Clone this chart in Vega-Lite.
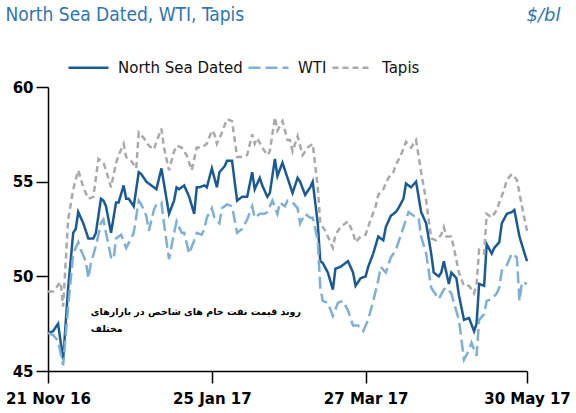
{
  "$schema": "https://vega.github.io/schema/vega-lite/v6.json",
  "description": "North Sea Dated, WTI and Tapis crude prices",
  "width": 479,
  "height": 284,
  "autosize": "none",
  "padding": {"left": 48, "top": 87, "right": 49, "bottom": 42},
  "title": {
    "text": "North Sea Dated, WTI, Tapis",
    "anchor": "start",
    "frame": "bounds",
    "font": "DejaVu Sans Condensed, DejaVu Sans",
    "fontSize": 19,
    "fontWeight": "normal",
    "color": "#2f74b0",
    "offset": 0,
    "dy": 19
  },
  "data": {
    "values": [
      {"date": "2016-11-21", "series": "North Sea Dated", "price": 47.0},
      {"date": "2016-11-23", "series": "North Sea Dated", "price": 47.1},
      {"date": "2016-11-25", "series": "North Sea Dated", "price": 47.5},
      {"date": "2016-11-27", "series": "North Sea Dated", "price": 45.6},
      {"date": "2016-11-29", "series": "North Sea Dated", "price": 49.4},
      {"date": "2016-12-01", "series": "North Sea Dated", "price": 52.3},
      {"date": "2016-12-02", "series": "North Sea Dated", "price": 52.5},
      {"date": "2016-12-03", "series": "North Sea Dated", "price": 53.4},
      {"date": "2016-12-05", "series": "North Sea Dated", "price": 52.8},
      {"date": "2016-12-07", "series": "North Sea Dated", "price": 52.0},
      {"date": "2016-12-09", "series": "North Sea Dated", "price": 52.0},
      {"date": "2016-12-10", "series": "North Sea Dated", "price": 52.3},
      {"date": "2016-12-12", "series": "North Sea Dated", "price": 54.1},
      {"date": "2016-12-13", "series": "North Sea Dated", "price": 54.0},
      {"date": "2016-12-14", "series": "North Sea Dated", "price": 53.7},
      {"date": "2016-12-16", "series": "North Sea Dated", "price": 52.3},
      {"date": "2016-12-18", "series": "North Sea Dated", "price": 53.9},
      {"date": "2016-12-19", "series": "North Sea Dated", "price": 53.9},
      {"date": "2016-12-21", "series": "North Sea Dated", "price": 54.8},
      {"date": "2016-12-22", "series": "North Sea Dated", "price": 54.1},
      {"date": "2016-12-23", "series": "North Sea Dated", "price": 54.1},
      {"date": "2016-12-25", "series": "North Sea Dated", "price": 53.7},
      {"date": "2016-12-27", "series": "North Sea Dated", "price": 55.5},
      {"date": "2016-12-28", "series": "North Sea Dated", "price": 55.4},
      {"date": "2016-12-30", "series": "North Sea Dated", "price": 55.0},
      {"date": "2017-01-02", "series": "North Sea Dated", "price": 54.7},
      {"date": "2017-01-03", "series": "North Sea Dated", "price": 54.6},
      {"date": "2017-01-05", "series": "North Sea Dated", "price": 55.7},
      {"date": "2017-01-08", "series": "North Sea Dated", "price": 53.3},
      {"date": "2017-01-10", "series": "North Sea Dated", "price": 54.0},
      {"date": "2017-01-11", "series": "North Sea Dated", "price": 54.7},
      {"date": "2017-01-12", "series": "North Sea Dated", "price": 54.6},
      {"date": "2017-01-14", "series": "North Sea Dated", "price": 54.8},
      {"date": "2017-01-16", "series": "North Sea Dated", "price": 54.2},
      {"date": "2017-01-18", "series": "North Sea Dated", "price": 53.3},
      {"date": "2017-01-19", "series": "North Sea Dated", "price": 54.7},
      {"date": "2017-01-20", "series": "North Sea Dated", "price": 54.7},
      {"date": "2017-01-22", "series": "North Sea Dated", "price": 54.8},
      {"date": "2017-01-23", "series": "North Sea Dated", "price": 54.7},
      {"date": "2017-01-25", "series": "North Sea Dated", "price": 55.7},
      {"date": "2017-01-27", "series": "North Sea Dated", "price": 54.7},
      {"date": "2017-01-28", "series": "North Sea Dated", "price": 55.5},
      {"date": "2017-01-30", "series": "North Sea Dated", "price": 55.8},
      {"date": "2017-01-31", "series": "North Sea Dated", "price": 56.1},
      {"date": "2017-02-02", "series": "North Sea Dated", "price": 56.1},
      {"date": "2017-02-04", "series": "North Sea Dated", "price": 54.0},
      {"date": "2017-02-06", "series": "North Sea Dated", "price": 54.2},
      {"date": "2017-02-08", "series": "North Sea Dated", "price": 54.2},
      {"date": "2017-02-10", "series": "North Sea Dated", "price": 55.5},
      {"date": "2017-02-11", "series": "North Sea Dated", "price": 54.6},
      {"date": "2017-02-13", "series": "North Sea Dated", "price": 55.2},
      {"date": "2017-02-14", "series": "North Sea Dated", "price": 54.8},
      {"date": "2017-02-16", "series": "North Sea Dated", "price": 54.2},
      {"date": "2017-02-17", "series": "North Sea Dated", "price": 54.4},
      {"date": "2017-02-19", "series": "North Sea Dated", "price": 56.2},
      {"date": "2017-02-20", "series": "North Sea Dated", "price": 55.3},
      {"date": "2017-02-22", "series": "North Sea Dated", "price": 56.0},
      {"date": "2017-02-24", "series": "North Sea Dated", "price": 55.2},
      {"date": "2017-02-26", "series": "North Sea Dated", "price": 54.4},
      {"date": "2017-02-28", "series": "North Sea Dated", "price": 55.2},
      {"date": "2017-03-01", "series": "North Sea Dated", "price": 55.0},
      {"date": "2017-03-03", "series": "North Sea Dated", "price": 54.3},
      {"date": "2017-03-05", "series": "North Sea Dated", "price": 54.7},
      {"date": "2017-03-06", "series": "North Sea Dated", "price": 55.0},
      {"date": "2017-03-08", "series": "North Sea Dated", "price": 52.8},
      {"date": "2017-03-09", "series": "North Sea Dated", "price": 50.8},
      {"date": "2017-03-10", "series": "North Sea Dated", "price": 50.7},
      {"date": "2017-03-12", "series": "North Sea Dated", "price": 50.2},
      {"date": "2017-03-14", "series": "North Sea Dated", "price": 49.3},
      {"date": "2017-03-15", "series": "North Sea Dated", "price": 50.4},
      {"date": "2017-03-17", "series": "North Sea Dated", "price": 50.5},
      {"date": "2017-03-20", "series": "North Sea Dated", "price": 50.8},
      {"date": "2017-03-22", "series": "North Sea Dated", "price": 50.2},
      {"date": "2017-03-23", "series": "North Sea Dated", "price": 49.5},
      {"date": "2017-03-25", "series": "North Sea Dated", "price": 49.9},
      {"date": "2017-03-27", "series": "North Sea Dated", "price": 50.0},
      {"date": "2017-03-28", "series": "North Sea Dated", "price": 50.5},
      {"date": "2017-03-30", "series": "North Sea Dated", "price": 51.2},
      {"date": "2017-04-01", "series": "North Sea Dated", "price": 52.1},
      {"date": "2017-04-03", "series": "North Sea Dated", "price": 51.9},
      {"date": "2017-04-04", "series": "North Sea Dated", "price": 52.6},
      {"date": "2017-04-06", "series": "North Sea Dated", "price": 53.2},
      {"date": "2017-04-08", "series": "North Sea Dated", "price": 53.4},
      {"date": "2017-04-09", "series": "North Sea Dated", "price": 53.6},
      {"date": "2017-04-11", "series": "North Sea Dated", "price": 54.1},
      {"date": "2017-04-12", "series": "North Sea Dated", "price": 54.9},
      {"date": "2017-04-14", "series": "North Sea Dated", "price": 54.7},
      {"date": "2017-04-16", "series": "North Sea Dated", "price": 55.0},
      {"date": "2017-04-18", "series": "North Sea Dated", "price": 53.4},
      {"date": "2017-04-20", "series": "North Sea Dated", "price": 52.8},
      {"date": "2017-04-22", "series": "North Sea Dated", "price": 51.2},
      {"date": "2017-04-23", "series": "North Sea Dated", "price": 50.2},
      {"date": "2017-04-25", "series": "North Sea Dated", "price": 50.0},
      {"date": "2017-04-26", "series": "North Sea Dated", "price": 50.2},
      {"date": "2017-04-27", "series": "North Sea Dated", "price": 50.8},
      {"date": "2017-04-29", "series": "North Sea Dated", "price": 49.6},
      {"date": "2017-04-30", "series": "North Sea Dated", "price": 50.2},
      {"date": "2017-05-02", "series": "North Sea Dated", "price": 49.9},
      {"date": "2017-05-03", "series": "North Sea Dated", "price": 49.0},
      {"date": "2017-05-05", "series": "North Sea Dated", "price": 47.7},
      {"date": "2017-05-07", "series": "North Sea Dated", "price": 47.8},
      {"date": "2017-05-09", "series": "North Sea Dated", "price": 47.1},
      {"date": "2017-05-10", "series": "North Sea Dated", "price": 47.5},
      {"date": "2017-05-11", "series": "North Sea Dated", "price": 49.6},
      {"date": "2017-05-13", "series": "North Sea Dated", "price": 49.5},
      {"date": "2017-05-14", "series": "North Sea Dated", "price": 51.7},
      {"date": "2017-05-16", "series": "North Sea Dated", "price": 51.2},
      {"date": "2017-05-17", "series": "North Sea Dated", "price": 51.5},
      {"date": "2017-05-19", "series": "North Sea Dated", "price": 51.8},
      {"date": "2017-05-20", "series": "North Sea Dated", "price": 52.8},
      {"date": "2017-05-22", "series": "North Sea Dated", "price": 53.3},
      {"date": "2017-05-24", "series": "North Sea Dated", "price": 53.4},
      {"date": "2017-05-25", "series": "North Sea Dated", "price": 53.5},
      {"date": "2017-05-27", "series": "North Sea Dated", "price": 52.1},
      {"date": "2017-05-30", "series": "North Sea Dated", "price": 50.8},

      {"date": "2016-11-21", "series": "WTI", "price": 47.0},
      {"date": "2016-11-23", "series": "WTI", "price": 46.9},
      {"date": "2016-11-25", "series": "WTI", "price": 46.6},
      {"date": "2016-11-27", "series": "WTI", "price": 45.3},
      {"date": "2016-11-29", "series": "WTI", "price": 48.4},
      {"date": "2016-12-01", "series": "WTI", "price": 51.2},
      {"date": "2016-12-03", "series": "WTI", "price": 51.8},
      {"date": "2016-12-04", "series": "WTI", "price": 51.4},
      {"date": "2016-12-06", "series": "WTI", "price": 50.8},
      {"date": "2016-12-07", "series": "WTI", "price": 49.9},
      {"date": "2016-12-08", "series": "WTI", "price": 50.7},
      {"date": "2016-12-10", "series": "WTI", "price": 51.6},
      {"date": "2016-12-12", "series": "WTI", "price": 52.8},
      {"date": "2016-12-13", "series": "WTI", "price": 53.0},
      {"date": "2016-12-14", "series": "WTI", "price": 52.3},
      {"date": "2016-12-16", "series": "WTI", "price": 51.0},
      {"date": "2016-12-17", "series": "WTI", "price": 50.9},
      {"date": "2016-12-18", "series": "WTI", "price": 52.0},
      {"date": "2016-12-20", "series": "WTI", "price": 52.2},
      {"date": "2016-12-22", "series": "WTI", "price": 51.5},
      {"date": "2016-12-24", "series": "WTI", "price": 52.0},
      {"date": "2016-12-25", "series": "WTI", "price": 52.3},
      {"date": "2016-12-27", "series": "WTI", "price": 54.0},
      {"date": "2016-12-28", "series": "WTI", "price": 53.8},
      {"date": "2016-12-30", "series": "WTI", "price": 53.2},
      {"date": "2016-12-31", "series": "WTI", "price": 52.4},
      {"date": "2017-01-02", "series": "WTI", "price": 53.5},
      {"date": "2017-01-03", "series": "WTI", "price": 53.8},
      {"date": "2017-01-05", "series": "WTI", "price": 53.9},
      {"date": "2017-01-06", "series": "WTI", "price": 52.8},
      {"date": "2017-01-08", "series": "WTI", "price": 50.9},
      {"date": "2017-01-10", "series": "WTI", "price": 52.3},
      {"date": "2017-01-11", "series": "WTI", "price": 52.9},
      {"date": "2017-01-13", "series": "WTI", "price": 52.3},
      {"date": "2017-01-14", "series": "WTI", "price": 52.3},
      {"date": "2017-01-16", "series": "WTI", "price": 51.2},
      {"date": "2017-01-18", "series": "WTI", "price": 51.9},
      {"date": "2017-01-19", "series": "WTI", "price": 52.3},
      {"date": "2017-01-21", "series": "WTI", "price": 52.2},
      {"date": "2017-01-22", "series": "WTI", "price": 52.5},
      {"date": "2017-01-23", "series": "WTI", "price": 53.1},
      {"date": "2017-01-25", "series": "WTI", "price": 53.6},
      {"date": "2017-01-26", "series": "WTI", "price": 53.1},
      {"date": "2017-01-28", "series": "WTI", "price": 52.8},
      {"date": "2017-01-29", "series": "WTI", "price": 53.6},
      {"date": "2017-01-31", "series": "WTI", "price": 53.8},
      {"date": "2017-02-02", "series": "WTI", "price": 53.7},
      {"date": "2017-02-04", "series": "WTI", "price": 52.3},
      {"date": "2017-02-06", "series": "WTI", "price": 52.5},
      {"date": "2017-02-08", "series": "WTI", "price": 53.0},
      {"date": "2017-02-10", "series": "WTI", "price": 53.7},
      {"date": "2017-02-11", "series": "WTI", "price": 53.1},
      {"date": "2017-02-13", "series": "WTI", "price": 53.3},
      {"date": "2017-02-15", "series": "WTI", "price": 53.3},
      {"date": "2017-02-16", "series": "WTI", "price": 53.4},
      {"date": "2017-02-18", "series": "WTI", "price": 54.0},
      {"date": "2017-02-20", "series": "WTI", "price": 53.3},
      {"date": "2017-02-21", "series": "WTI", "price": 53.9},
      {"date": "2017-02-23", "series": "WTI", "price": 53.7},
      {"date": "2017-02-24", "series": "WTI", "price": 54.0},
      {"date": "2017-02-26", "series": "WTI", "price": 53.9},
      {"date": "2017-02-28", "series": "WTI", "price": 53.6},
      {"date": "2017-03-01", "series": "WTI", "price": 52.8},
      {"date": "2017-03-03", "series": "WTI", "price": 53.3},
      {"date": "2017-03-05", "series": "WTI", "price": 53.1},
      {"date": "2017-03-06", "series": "WTI", "price": 53.1},
      {"date": "2017-03-08", "series": "WTI", "price": 51.9},
      {"date": "2017-03-09", "series": "WTI", "price": 49.4},
      {"date": "2017-03-10", "series": "WTI", "price": 48.7},
      {"date": "2017-03-12", "series": "WTI", "price": 48.6},
      {"date": "2017-03-14", "series": "WTI", "price": 47.9},
      {"date": "2017-03-16", "series": "WTI", "price": 48.6},
      {"date": "2017-03-18", "series": "WTI", "price": 48.7},
      {"date": "2017-03-20", "series": "WTI", "price": 48.2},
      {"date": "2017-03-22", "series": "WTI", "price": 47.4},
      {"date": "2017-03-24", "series": "WTI", "price": 47.4},
      {"date": "2017-03-26", "series": "WTI", "price": 47.1},
      {"date": "2017-03-28", "series": "WTI", "price": 47.7},
      {"date": "2017-03-30", "series": "WTI", "price": 48.7},
      {"date": "2017-04-01", "series": "WTI", "price": 49.8},
      {"date": "2017-04-02", "series": "WTI", "price": 50.5},
      {"date": "2017-04-04", "series": "WTI", "price": 50.2},
      {"date": "2017-04-06", "series": "WTI", "price": 51.0},
      {"date": "2017-04-08", "series": "WTI", "price": 51.4},
      {"date": "2017-04-09", "series": "WTI", "price": 51.8},
      {"date": "2017-04-11", "series": "WTI", "price": 52.6},
      {"date": "2017-04-13", "series": "WTI", "price": 53.4},
      {"date": "2017-04-15", "series": "WTI", "price": 53.2},
      {"date": "2017-04-17", "series": "WTI", "price": 53.1},
      {"date": "2017-04-18", "series": "WTI", "price": 52.1},
      {"date": "2017-04-20", "series": "WTI", "price": 51.2},
      {"date": "2017-04-22", "series": "WTI", "price": 49.4},
      {"date": "2017-04-24", "series": "WTI", "price": 49.0},
      {"date": "2017-04-25", "series": "WTI", "price": 48.8},
      {"date": "2017-04-27", "series": "WTI", "price": 49.3},
      {"date": "2017-04-28", "series": "WTI", "price": 49.4},
      {"date": "2017-04-30", "series": "WTI", "price": 49.1},
      {"date": "2017-05-01", "series": "WTI", "price": 48.6},
      {"date": "2017-05-03", "series": "WTI", "price": 47.7},
      {"date": "2017-05-05", "series": "WTI", "price": 45.6},
      {"date": "2017-05-07", "series": "WTI", "price": 46.1},
      {"date": "2017-05-08", "series": "WTI", "price": 46.5},
      {"date": "2017-05-10", "series": "WTI", "price": 45.8},
      {"date": "2017-05-11", "series": "WTI", "price": 47.7},
      {"date": "2017-05-13", "series": "WTI", "price": 48.0},
      {"date": "2017-05-14", "series": "WTI", "price": 48.7},
      {"date": "2017-05-16", "series": "WTI", "price": 48.8},
      {"date": "2017-05-18", "series": "WTI", "price": 49.1},
      {"date": "2017-05-19", "series": "WTI", "price": 49.4},
      {"date": "2017-05-20", "series": "WTI", "price": 50.3},
      {"date": "2017-05-22", "series": "WTI", "price": 50.6},
      {"date": "2017-05-24", "series": "WTI", "price": 51.2},
      {"date": "2017-05-26", "series": "WTI", "price": 51.0},
      {"date": "2017-05-27", "series": "WTI", "price": 48.7},
      {"date": "2017-05-28", "series": "WTI", "price": 49.7},
      {"date": "2017-05-30", "series": "WTI", "price": 49.6},

      {"date": "2016-11-21", "series": "Tapis", "price": 49.2},
      {"date": "2016-11-23", "series": "Tapis", "price": 49.2},
      {"date": "2016-11-26", "series": "Tapis", "price": 49.7},
      {"date": "2016-11-27", "series": "Tapis", "price": 48.4},
      {"date": "2016-11-29", "series": "Tapis", "price": 53.0},
      {"date": "2016-12-01", "series": "Tapis", "price": 54.6},
      {"date": "2016-12-02", "series": "Tapis", "price": 55.1},
      {"date": "2016-12-03", "series": "Tapis", "price": 55.6},
      {"date": "2016-12-05", "series": "Tapis", "price": 54.7},
      {"date": "2016-12-07", "series": "Tapis", "price": 54.1},
      {"date": "2016-12-09", "series": "Tapis", "price": 54.2},
      {"date": "2016-12-11", "series": "Tapis", "price": 56.2},
      {"date": "2016-12-13", "series": "Tapis", "price": 56.0},
      {"date": "2016-12-14", "series": "Tapis", "price": 55.6},
      {"date": "2016-12-16", "series": "Tapis", "price": 54.7},
      {"date": "2016-12-18", "series": "Tapis", "price": 56.0},
      {"date": "2016-12-19", "series": "Tapis", "price": 56.4},
      {"date": "2016-12-21", "series": "Tapis", "price": 57.0},
      {"date": "2016-12-22", "series": "Tapis", "price": 56.3},
      {"date": "2016-12-24", "series": "Tapis", "price": 56.1},
      {"date": "2016-12-26", "series": "Tapis", "price": 55.7},
      {"date": "2016-12-27", "series": "Tapis", "price": 57.6},
      {"date": "2016-12-29", "series": "Tapis", "price": 57.3},
      {"date": "2016-12-31", "series": "Tapis", "price": 56.9},
      {"date": "2017-01-02", "series": "Tapis", "price": 56.7},
      {"date": "2017-01-03", "series": "Tapis", "price": 57.1},
      {"date": "2017-01-05", "series": "Tapis", "price": 57.8},
      {"date": "2017-01-06", "series": "Tapis", "price": 56.8},
      {"date": "2017-01-08", "series": "Tapis", "price": 55.6},
      {"date": "2017-01-10", "series": "Tapis", "price": 56.6},
      {"date": "2017-01-11", "series": "Tapis", "price": 56.9},
      {"date": "2017-01-13", "series": "Tapis", "price": 56.8},
      {"date": "2017-01-15", "series": "Tapis", "price": 56.4},
      {"date": "2017-01-17", "series": "Tapis", "price": 55.6},
      {"date": "2017-01-19", "series": "Tapis", "price": 56.8},
      {"date": "2017-01-21", "series": "Tapis", "price": 56.8},
      {"date": "2017-01-23", "series": "Tapis", "price": 57.0},
      {"date": "2017-01-25", "series": "Tapis", "price": 57.7},
      {"date": "2017-01-26", "series": "Tapis", "price": 57.5},
      {"date": "2017-01-27", "series": "Tapis", "price": 57.0},
      {"date": "2017-01-29", "series": "Tapis", "price": 57.6},
      {"date": "2017-01-31", "series": "Tapis", "price": 58.3},
      {"date": "2017-02-02", "series": "Tapis", "price": 58.2},
      {"date": "2017-02-04", "series": "Tapis", "price": 56.3},
      {"date": "2017-02-06", "series": "Tapis", "price": 56.3},
      {"date": "2017-02-08", "series": "Tapis", "price": 56.4},
      {"date": "2017-02-10", "series": "Tapis", "price": 57.5},
      {"date": "2017-02-11", "series": "Tapis", "price": 57.0},
      {"date": "2017-02-12", "series": "Tapis", "price": 57.3},
      {"date": "2017-02-14", "series": "Tapis", "price": 56.8},
      {"date": "2017-02-16", "series": "Tapis", "price": 56.4},
      {"date": "2017-02-17", "series": "Tapis", "price": 56.6},
      {"date": "2017-02-19", "series": "Tapis", "price": 58.4},
      {"date": "2017-02-20", "series": "Tapis", "price": 57.7},
      {"date": "2017-02-22", "series": "Tapis", "price": 58.2},
      {"date": "2017-02-24", "series": "Tapis", "price": 57.2},
      {"date": "2017-02-25", "series": "Tapis", "price": 57.2},
      {"date": "2017-02-26", "series": "Tapis", "price": 56.6},
      {"date": "2017-02-28", "series": "Tapis", "price": 57.4},
      {"date": "2017-03-02", "series": "Tapis", "price": 56.4},
      {"date": "2017-03-04", "series": "Tapis", "price": 56.8},
      {"date": "2017-03-06", "series": "Tapis", "price": 57.0},
      {"date": "2017-03-08", "series": "Tapis", "price": 54.7},
      {"date": "2017-03-09", "series": "Tapis", "price": 52.8},
      {"date": "2017-03-11", "series": "Tapis", "price": 52.4},
      {"date": "2017-03-12", "series": "Tapis", "price": 52.1},
      {"date": "2017-03-14", "series": "Tapis", "price": 51.5},
      {"date": "2017-03-15", "series": "Tapis", "price": 52.2},
      {"date": "2017-03-17", "series": "Tapis", "price": 52.6},
      {"date": "2017-03-19", "series": "Tapis", "price": 52.8},
      {"date": "2017-03-20", "series": "Tapis", "price": 52.9},
      {"date": "2017-03-22", "series": "Tapis", "price": 52.3},
      {"date": "2017-03-23", "series": "Tapis", "price": 51.8},
      {"date": "2017-03-25", "series": "Tapis", "price": 52.1},
      {"date": "2017-03-27", "series": "Tapis", "price": 52.2},
      {"date": "2017-03-29", "series": "Tapis", "price": 53.0},
      {"date": "2017-03-31", "series": "Tapis", "price": 53.7},
      {"date": "2017-04-01", "series": "Tapis", "price": 54.3},
      {"date": "2017-04-03", "series": "Tapis", "price": 54.6},
      {"date": "2017-04-05", "series": "Tapis", "price": 55.2},
      {"date": "2017-04-07", "series": "Tapis", "price": 55.5},
      {"date": "2017-04-08", "series": "Tapis", "price": 55.9},
      {"date": "2017-04-10", "series": "Tapis", "price": 56.4},
      {"date": "2017-04-12", "series": "Tapis", "price": 57.1},
      {"date": "2017-04-14", "series": "Tapis", "price": 56.8},
      {"date": "2017-04-16", "series": "Tapis", "price": 57.2},
      {"date": "2017-04-18", "series": "Tapis", "price": 55.5},
      {"date": "2017-04-20", "series": "Tapis", "price": 54.0},
      {"date": "2017-04-22", "series": "Tapis", "price": 52.0},
      {"date": "2017-04-24", "series": "Tapis", "price": 51.9},
      {"date": "2017-04-26", "series": "Tapis", "price": 52.2},
      {"date": "2017-04-27", "series": "Tapis", "price": 52.6},
      {"date": "2017-04-28", "series": "Tapis", "price": 52.1},
      {"date": "2017-04-30", "series": "Tapis", "price": 52.1},
      {"date": "2017-05-01", "series": "Tapis", "price": 51.5},
      {"date": "2017-05-03", "series": "Tapis", "price": 50.2},
      {"date": "2017-05-05", "series": "Tapis", "price": 49.5},
      {"date": "2017-05-07", "series": "Tapis", "price": 49.5},
      {"date": "2017-05-09", "series": "Tapis", "price": 49.1},
      {"date": "2017-05-10", "series": "Tapis", "price": 49.6},
      {"date": "2017-05-11", "series": "Tapis", "price": 51.4},
      {"date": "2017-05-13", "series": "Tapis", "price": 51.2},
      {"date": "2017-05-14", "series": "Tapis", "price": 53.3},
      {"date": "2017-05-16", "series": "Tapis", "price": 53.1},
      {"date": "2017-05-18", "series": "Tapis", "price": 53.5},
      {"date": "2017-05-19", "series": "Tapis", "price": 53.9},
      {"date": "2017-05-21", "series": "Tapis", "price": 54.6},
      {"date": "2017-05-22", "series": "Tapis", "price": 55.1},
      {"date": "2017-05-24", "series": "Tapis", "price": 55.4},
      {"date": "2017-05-26", "series": "Tapis", "price": 55.1},
      {"date": "2017-05-28", "series": "Tapis", "price": 53.7},
      {"date": "2017-05-30", "series": "Tapis", "price": 52.4}
    ]
  },
  "layer": [
    {
      "mark": {"type": "line", "strokeWidth": 2.5, "strokeJoin": "miter"},
      "encoding": {
        "x": {
          "field": "date",
          "type": "temporal",
          "scale": {
            "type": "utc",
            "domain": [
              {"year": 2016, "month": "nov", "date": 21, "utc": true},
              {"year": 2017, "month": "may", "date": 30, "utc": true}
            ]
          },
          "axis": {
            "title": null,
            "grid": false,
            "format": "%d %b %y",
            "values": [
              {"year": 2016, "month": "nov", "date": 21, "utc": true},
              {"year": 2017, "month": "jan", "date": 25, "utc": true},
              {"year": 2017, "month": "mar", "date": 27, "utc": true},
              {"year": 2017, "month": "may", "date": 30, "utc": true}
            ],
            "labelFlush": false,
            "labelOverlap": false,
            "tickSize": 12,
            "labelPadding": 8
          }
        },
        "y": {
          "field": "price",
          "type": "quantitative",
          "scale": {"domain": [45, 60], "zero": false, "nice": false},
          "axis": {
            "values": [45, 50, 55, 60],
            "grid": false,
            "tickSize": 12,
            "labelPadding": 3,
            "title": "$/bl",
            "titleAngle": 0,
            "titleAlign": "right",
            "titleBaseline": "alphabetic",
            "titleX": 512,
            "titleY": -67,
            "titleFont": "DejaVu Sans",
            "titleFontStyle": "italic",
            "titleFontWeight": "normal",
            "titleFontSize": 18,
            "titleColor": "#2f74b0"
          }
        },
        "color": {
          "field": "series",
          "type": "nominal",
          "scale": {
            "domain": ["North Sea Dated", "WTI", "Tapis"],
            "range": ["#1a5a94", "#7eafd4", "#a9a9a9"]
          },
          "legend": {
            "title": null,
            "orient": "none",
            "direction": "horizontal",
            "legendX": 19,
            "legendY": -41,
            "symbolType": "stroke",
            "symbolSize": 1600,
            "symbolStrokeWidth": 2.5,
            "labelFont": "DejaVu Sans",
            "labelFontSize": 15,
            "labelColor": "#111111",
            "labelOffset": 8,
            "columnPadding": 0
          }
        },
        "strokeDash": {
          "field": "series",
          "type": "nominal",
          "scale": {
            "domain": ["North Sea Dated", "WTI", "Tapis"],
            "range": [[1, 0], [12, 5], [6, 4]]
          },
          "legend": null
        }
      }
    },
    {
      "data": {
        "values": [
          {"date": "2016-12-08", "price": 48.4, "note": "روند قیمت نفت خام های شاخص در بازارهای\nمختلف"}
        ]
      },
      "mark": {
        "type": "text",
        "align": "left",
        "baseline": "top",
        "lineBreak": "\n",
        "lineHeight": 17,
        "font": "DejaVu Sans",
        "fontWeight": "bold",
        "fontSize": 9.5,
        "color": "#000000"
      },
      "encoding": {
        "x": {"field": "date", "type": "temporal", "scale": {"type": "utc"}},
        "y": {"field": "price", "type": "quantitative"},
        "text": {"field": "note", "type": "nominal"}
      }
    }
  ],
  "config": {
    "view": {"stroke": null},
    "axis": {
      "domainColor": "#000000",
      "domainWidth": 1.5,
      "tickColor": "#000000",
      "tickWidth": 1.5,
      "labelColor": "#000000",
      "labelFont": "DejaVu Sans",
      "labelFontSize": 15,
      "labelFontWeight": "bold"
    }
  }
}
